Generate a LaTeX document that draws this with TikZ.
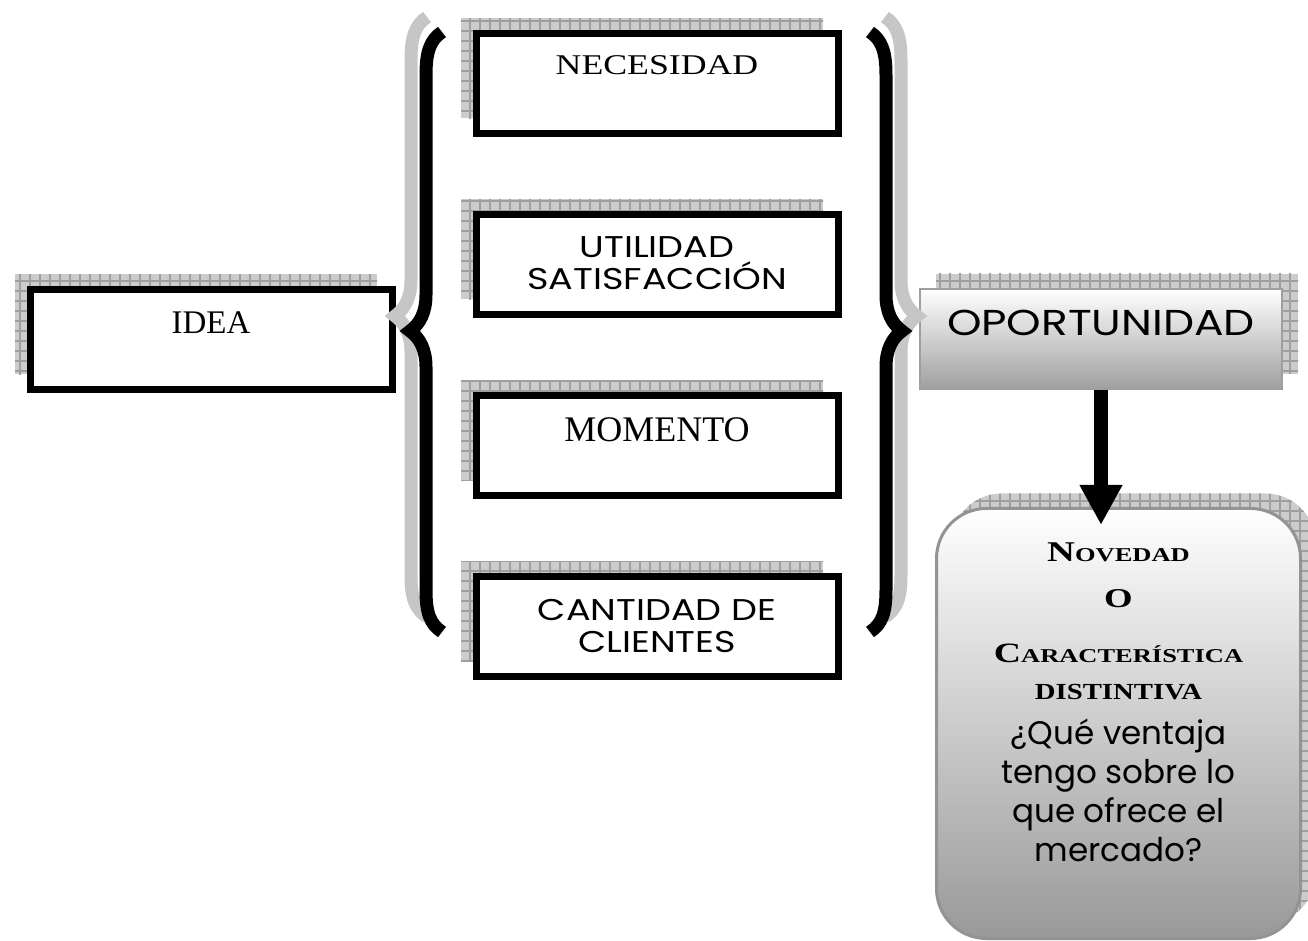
\documentclass[tikz,border=0pt]{standalone}
\usepackage{fontspec}
\newfontfamily\gothicfont{Poppins}
\newfontfamily\gothicwide[FakeStretch=1.22]{Poppins}
\newfontfamily\timesfont{Liberation Serif}
\newfontfamily\copperfont[FakeStretch=1.25]{Liberation Serif}
\newfontfamily\copperwide[FakeStretch=1.35]{Liberation Serif}
\usetikzlibrary{arrows.meta, positioning, shadows, patterns.meta}

\begin{document}
\begin{tikzpicture}[
    x=0.5pt, y=-0.5pt,
    node distance=37pt,
    gridshadow/.style={
        general shadow={draw=none, fill=gray!40, shadow xshift=#1, shadow yshift=7.5pt},
        general shadow={draw=none, pattern={Hatch[distance=5pt, angle=0, line width=0.6pt]},
            pattern color=gray!75, shadow xshift=#1, shadow yshift=7.5pt}
    },
    toptext/.style 2 args={
        inner sep=0pt,
        execute at begin node={\begin{minipage}[c][#1][t]{#2}\centering},
        execute at end node={\end{minipage}}
    },
    box/.style={
        rectangle, draw, line width=3.5pt, fill=white,
        minimum width=181pt, minimum height=50pt,
        gridshadow=-7.5pt, toptext={27.5pt}{176pt}
    },
    opobox/.style={
        rectangle, draw=gray!75, line width=1pt,
        top color=white, bottom color=gray!75,
        minimum width=181pt, minimum height=50pt,
        gridshadow=8pt, toptext={29pt}{176pt}
    },
    novbox/.style={
        rectangle, rounded corners=25pt, draw=gray!85, line width=1.5pt,
        top color=white, bottom color=gray!80,
        minimum width=182pt, minimum height=215pt,
        gridshadow=7.5pt, toptext={200pt}{176pt}
    },
    curly/.style={line width=6.5pt, line join=miter, miter limit=20},
    bigarrow/.style={line width=7pt, -{Triangle[length=20pt, width=20pt]}}
]

\useasboundingbox (0,0) rectangle (1308,941);

% left
\node[box] (idea) at (211,339.5) {\timesfont\fontsize{16.5}{18}\selectfont IDEA};

% middle column
\node[box] (nec) at (657,83.5) {\copperfont\fontsize{14.3}{16}\selectfont NECESIDAD};
\node[box, below=of nec] (uti) {\gothicwide\fontsize{15}{16}\selectfont UTILIDAD\par SATISFACCIÓN\par};
\node[box, below=of uti] (mom) {\timesfont\fontsize{18}{19}\selectfont MOMENTO};
\node[box, below=of mom] (can) {\gothicwide\fontsize{15}{16}\selectfont CANTIDAD DE\par CLIENTES\par};

% right column
\node[opobox] (opo) at (1101,339) {\gothicwide\fontsize{18}{20}\selectfont OPORTUNIDAD};
\node[novbox] (nov) at (1118.5,723.5) {%
    \vspace*{9.75pt}%
    {\copperwide\bfseries\fontsize{14.3}{16}\selectfont N{\fontsize{9.8}{12}\selectfont OVEDAD}\par}
    {\copperwide\bfseries\fontsize{13.6}{23}\selectfont O\par}
    {\copperwide\bfseries\fontsize{14}{27.5}\selectfont C{\fontsize{9.8}{12}\selectfont ARACTERÍSTICA}\par}
    {\copperfont\bfseries\fontsize{11.5}{18.5}\selectfont DISTINTIVA\par}
    {\gothicfont\fontsize{16.3}{22.5}\selectfont ¿Qué ventaja\par}
    {\gothicfont\fontsize{16.3}{19.5}\selectfont tengo sobre lo\par que ofrece el\par mercado?\par}
};

% braces
\draw[curly, gray!45, shift={(-15,-15)}] (442,32) .. controls (430,40) and (426,52) .. (426,75)
    -- (426,295) .. controls (426,312) and (420,324) .. (410,331)
    .. controls (420,338) and (426,350) .. (426,367) -- (426,590)
    .. controls (426,613) and (430,624) .. (442,632);
\draw[curly] (442,32) .. controls (430,40) and (426,52) .. (426,75)
    -- (426,295) .. controls (426,312) and (420,324) .. (410,331)
    .. controls (420,338) and (426,350) .. (426,367) -- (426,590)
    .. controls (426,613) and (430,624) .. (442,632);
\draw[curly, gray!45, shift={(15,-15)}] (870,32) .. controls (882,40) and (886,52) .. (886,75)
    -- (886,295) .. controls (886,312) and (892,324) .. (902,331)
    .. controls (892,338) and (886,350) .. (886,367) -- (886,590)
    .. controls (886,613) and (882,624) .. (870,632);
\draw[curly] (870,32) .. controls (882,40) and (886,52) .. (886,75)
    -- (886,295) .. controls (886,312) and (892,324) .. (902,331)
    .. controls (892,338) and (886,350) .. (886,367) -- (886,590)
    .. controls (886,613) and (882,624) .. (870,632);

% arrow
\coordinate (arrowend) at (opo.south |- nov.north);
\draw[bigarrow] (opo.south) -- ([yshift=-9pt]arrowend);

\end{tikzpicture}
\end{document}
